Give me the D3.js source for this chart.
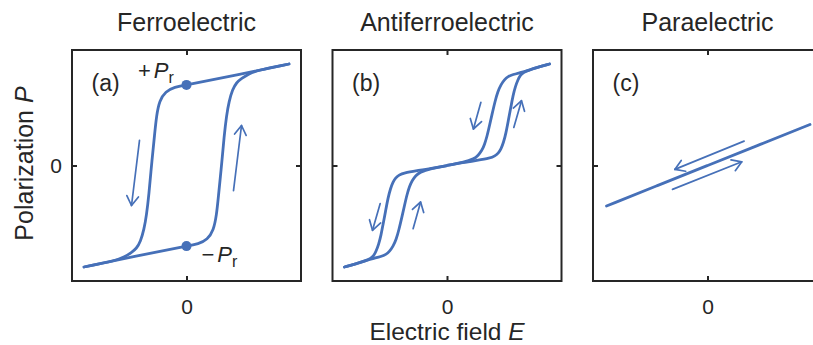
<!DOCTYPE html>
<html>
<head>
<meta charset="utf-8">
<script src="https://cdn.jsdelivr.net/npm/d3@7"></script>
<style>
  html, body { margin: 0; padding: 0; background: #fff; }
  svg { display: block; font-family: "Liberation Sans", Arial, Helvetica, sans-serif; }
</style>
</head>
<body>
<svg id="chart" width="813" height="345"></svg>
<script>
// Panel headings and corner tags
const panelTitles = ["Ferroelectric", "Antiferroelectric", "Paraelectric"];
const panelTags = ["(a)", "(b)", "(c)"];
const tickValues = [0];
const tickLabels = ["0"];

// Ferroelectric hysteresis loop (arbitrary units): rising and falling branches
const feUpE   = [-102.5, -50, 0, 12, 21, 27, 30, 32, 34, 35.5, 37.5, 40, 42.5, 46, 50, 55, 62, 70, 102.5];
const feUpP   = [-101.5, -90.4, -80.6, -78.5, -74, -65, -50, -30, -10, 5, 28, 50, 64, 76, 83, 87, 91.5, 95, 101.5];
const feDownE = [102.5, 50, 0, -12, -21, -27, -30, -32, -34, -35.5, -37.5, -40, -42.5, -46, -50, -55, -62, -70, -102.5];
const feDownP = [101.5, 90.4, 80.6, 78.5, 74, 65, 50, 30, 10, -5, -28, -50, -64, -76, -83, -87, -91.5, -95, -101.5];
// Remanent polarization points (+Pr, -Pr)
const remE = [0, 0];
const remP = [80.6, -80.6];

// Antiferroelectric double loop
const afeUpE   = [-102.5, -90, -80.8, -73, -66, -61, -57.5, -54, -50.8, -48, -45, -42.5, -40, -37.5, -35, -31, -27.5, -16, 0, 16, 30, 43, 48, 51.5, 54, 56.5, 59, 61.5, 64, 66, 68.4, 70.8, 73.4, 76.5, 80.8, 90, 102.5];
const afeUpP   = [-101.5, -98, -95, -92.8, -91, -89, -86, -81, -74, -64, -51, -40, -29, -21, -15, -10, -6.7, -3, 0, 3, 5.2, 7.3, 9.5, 12.5, 16.5, 23, 32.5, 46, 59, 70, 79, 85.5, 90.5, 93, 95, 98, 101.5];
const afeDownE = [102.5, 90, 80.8, 73, 66, 61, 57.5, 54, 50.8, 48, 45, 42.5, 40, 37.5, 35, 31, 27.5, 16, 0, -16, -30, -43, -48, -51.5, -54, -56.5, -59, -61.5, -64, -66, -68.4, -70.8, -73.4, -76.5, -80.8, -90, -102.5];
const afeDownP = [101.5, 98, 95, 92.8, 91, 89, 86, 81, 74, 64, 51, 40, 29, 21, 15, 10, 6.7, 3, 0, -3, -5.2, -7.3, -9.5, -12.5, -16.5, -23, -32.5, -46, -59, -70, -79, -85.5, -90.5, -93, -95, -98, -101.5];

// Paraelectric linear response
const peE = [-101, -50, 0, 50, 102.5];
const peP = [-40.5, -20, 0, 20, 41];

// Sweep-direction arrows: [fromE, fromP, toE, toP]
const feArrows  = [[-47, 25.2, -55, -40], [47, -25.2, 55, 40]];
const afeArrows = [[33.9, 63.2, 26.4, 36.5], [66.8, 38, 74.5, 64.8], [-66.8, -38, -74.5, -64.8], [-33.9, -63.2, -26.4, -36.5]];
const peArrows  = [[36.6, 24.4, -32.7, -3.9], [-35, -23.9, 34.3, 3.7]];

const zip = (E, P) => E.map((e, i) => [e, P[i]]);

const panels = [
  { curves: [zip(feUpE, feUpP), zip(feDownE, feDownP)], arrows: feArrows, dots: zip(remE, remP) },
  { curves: [zip(afeUpE, afeUpP), zip(afeDownE, afeDownP)], arrows: afeArrows, dots: [] },
  { curves: [zip(peE, peP)], arrows: peArrows, dots: [] }
];

const BLUE = "#4670b8";
const INK = "#262626";
const left0 = 72, top0 = 50, panelW = 229, panelH = 231, gap = 31.5;

const svg = d3.select("#chart");

const x = d3.scaleLinear().domain([-114.5, 114.5]).range([0, panelW]);
const y = d3.scaleLinear().domain([-115.5, 115.5]).range([panelH, 0]);
// B-spline smoothing gives the rounded knees of the switching branches
const line = d3.line().x(d => x(d[0])).y(d => y(d[1])).curve(d3.curveBasis);

function styleAxis(sel) {
  sel.select(".domain").remove();
  sel.selectAll(".tick line").attr("stroke", INK).attr("stroke-width", 2);
  sel.selectAll(".tick text").attr("fill", INK).attr("font-size", 21);
}

panels.forEach((p, i) => {
  const g = svg.append("g").attr("transform", `translate(${left0 + i * (panelW + gap)},${top0})`);

  // inward ticks on all four sides
  g.append("g").attr("transform", `translate(0,${panelH})`)
    .call(d3.axisBottom(x).tickValues(tickValues).tickFormat((d, k) => tickLabels[k]).tickSize(-5).tickPadding(18))
    .call(styleAxis);
  g.append("g")
    .call(d3.axisTop(x).tickValues(tickValues).tickFormat("").tickSize(-5))
    .call(styleAxis);
  g.append("g")
    .call(d3.axisLeft(y).tickValues(tickValues).tickFormat((d, k) => i === 0 ? tickLabels[k] : "").tickSize(-5).tickPadding(10))
    .call(styleAxis);
  g.append("g").attr("transform", `translate(${panelW},0)`)
    .call(d3.axisRight(y).tickValues(tickValues).tickFormat("").tickSize(-5))
    .call(styleAxis);

  // frame
  g.append("rect").attr("width", panelW).attr("height", panelH)
    .attr("fill", "none").attr("stroke", INK).attr("stroke-width", 2);

  // curves
  g.selectAll("path.curve").data(p.curves).join("path")
    .attr("class", "curve")
    .attr("d", line)
    .attr("fill", "none").attr("stroke", BLUE).attr("stroke-width", 2.8)
    .attr("stroke-linejoin", "round").attr("stroke-linecap", "round");

  // direction arrows
  p.arrows.forEach(a => {
    const x1 = x(a[0]), y1 = y(a[1]), x2 = x(a[2]), y2 = y(a[3]);
    const ang = Math.atan2(y1 - y2, x1 - x2);
    const L = 11, h = 32 * Math.PI / 180;
    const arm = s => [x2 + L * Math.cos(ang + s * h), y2 + L * Math.sin(ang + s * h)];
    const ag = g.append("g").attr("fill", "none").attr("stroke", BLUE).attr("stroke-width", 1.7)
      .attr("stroke-linecap", "round").attr("stroke-linejoin", "round");
    ag.append("line").attr("x1", x1).attr("y1", y1).attr("x2", x2).attr("y2", y2);
    const a1 = arm(1), a2 = arm(-1);
    ag.append("path").attr("d", `M${a1[0]},${a1[1]}L${x2},${y2}L${a2[0]},${a2[1]}`);
  });

  // remanence dots
  g.selectAll("circle").data(p.dots).join("circle")
    .attr("cx", d => x(d[0])).attr("cy", d => y(d[1])).attr("r", 5).attr("fill", BLUE);

  // panel tag
  g.append("text").attr("x", 19.5).attr("y", 41).attr("font-size", 23).attr("fill", INK).text(panelTags[i]);

  // panel title
  svg.append("text").attr("x", left0 + i * (panelW + gap) + panelW / 2).attr("y", 31)
    .attr("text-anchor", "middle").attr("font-size", 25).attr("fill", INK).text(panelTitles[i]);

  // +Pr / -Pr labels
  if (i === 0) {
    const pr = [["+", p.dots[0], -48.5, -6.5], ["\u2212", p.dots[1], 15, 16]];
    pr.forEach(([sign, d, dx, dy]) => {
      const t = g.append("text").attr("x", x(d[0]) + dx).attr("y", y(d[1]) + dy)
        .attr("font-size", 22).attr("fill", INK);
      t.append("tspan").text(sign);
      t.append("tspan").attr("dx", 3).attr("font-style", "italic").text("P");
      t.append("tspan").attr("dy", 5).attr("font-size", 16).text("r");
    });
  }
});

// axis titles
const xt = svg.append("text").attr("x", left0 + panelW * 1.5 + gap).attr("y", 339.5)
  .attr("text-anchor", "middle").attr("font-size", 24.5).attr("fill", INK);
xt.append("tspan").text("Electric field ");
xt.append("tspan").attr("font-style", "italic").text("E");

const yt = svg.append("text").attr("transform", `translate(33,${top0 + panelH / 2 - 2}) rotate(-90)`)
  .attr("text-anchor", "middle").attr("font-size", 25).attr("fill", INK);
yt.append("tspan").text("Polarization ");
yt.append("tspan").attr("font-style", "italic").text("P");
</script>
</body>
</html>
